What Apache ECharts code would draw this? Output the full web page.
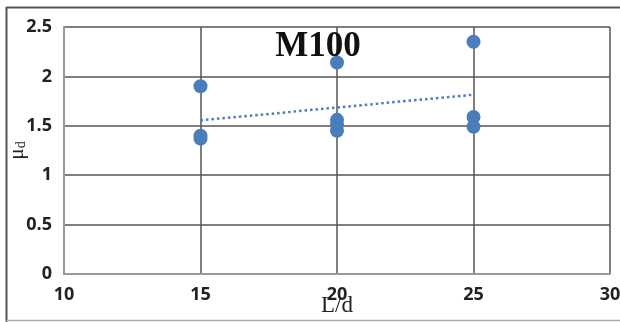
<!DOCTYPE html>
<html><head><meta charset="utf-8">
<script src="https://cdn.jsdelivr.net/npm/echarts@6/dist/echarts.min.js"></script>
<style>html,body{margin:0;padding:0;background:#fff}#c{width:620px;height:322px}</style>
</head><body><div id="c"></div>
<script>
var xLabels = [10, 15, 20, 25, 30];
var yLabels = [0, 0.5, 1, 1.5, 2, 2.5];
var ldValues = [15, 15, 15, 20, 20, 20, 20, 25, 25, 25];
var muValues = [1.90, 1.40, 1.37, 2.14, 1.56, 1.51, 1.45, 2.35, 1.59, 1.49];
var trendX = [15, 25];
var trendY = [1.555, 1.815];

var pts = ldValues.map(function (x, i) { return [x, muValues[i]]; });
var trend = trendX.map(function (x, i) { return [x, trendY[i]]; });

var chart = echarts.init(document.getElementById('c'), null, {renderer: 'canvas'});
chart.setOption({
  backgroundColor: '#fff',
  animation: false,
  title: {
    text: 'M100', left: 313, top: 24, textAlign: 'center',
    textStyle: {fontFamily: 'Liberation Serif', fontWeight: 'bold', fontSize: 35, color: '#111'}
  },
  grid: {left: 64, right: 10, top: 27, bottom: 48, containLabel: false, outerBoundsMode: 'none'},
  xAxis: {
    type: 'value', min: xLabels[0], max: xLabels[xLabels.length - 1], interval: 5,
    name: 'L/d', nameLocation: 'middle', nameGap: 20, nameMoveOverlap: false,
    nameTextStyle: {fontFamily: 'Liberation Serif', fontSize: 23, color: '#222'},
    axisLine: {show: true, lineStyle: {color: '#999', width: 2}},
    axisTick: {show: false},
    axisLabel: {margin: 12, fontFamily: 'Open Sans', fontWeight: 'bold', fontSize: 18, color: '#222'},
    splitLine: {show: true, lineStyle: {color: '#555', width: 1.5}}
  },
  yAxis: {
    type: 'value', min: yLabels[0], max: yLabels[yLabels.length - 1], interval: 0.5,
    name: '{m|μ}{s|d}', nameLocation: 'middle', nameGap: 36, nameRotate: 90, nameMoveOverlap: false,
    nameTextStyle: {
      rich: {
        m: {fontFamily: 'Liberation Serif', fontSize: 21, color: '#222'},
        s: {fontFamily: 'Liberation Serif', fontSize: 14, color: '#222', verticalAlign: 'bottom', padding: [8, 0, 0, 0]}
      }
    },
    axisLine: {show: true, lineStyle: {color: '#999', width: 2}},
    axisTick: {show: false},
    axisLabel: {margin: 12, fontFamily: 'Open Sans', fontWeight: 'bold', fontSize: 18, color: '#222'},
    splitLine: {show: true, lineStyle: {color: '#555', width: 1.5}}
  },
  graphic: [
    {type: 'line', shape: {x1: 6, y1: 7.5, x2: 620, y2: 7.5}, style: {stroke: '#555', lineWidth: 2}, silent: true},
    {type: 'line', shape: {x1: 6.5, y1: 7, x2: 6.5, y2: 322}, style: {stroke: '#555', lineWidth: 2}, silent: true},
    {type: 'line', shape: {x1: 6, y1: 320.5, x2: 620, y2: 320.5}, style: {stroke: '#aaa', lineWidth: 1.5}, silent: true}
  ],
  series: [
    {
      type: 'line', data: trend, symbol: 'none', z: 3,
      lineStyle: {color: '#4a7ebb', width: 2.5, type: [2.5, 3]}
    },
    {
      type: 'scatter', data: pts, symbol: 'circle', symbolSize: 14, z: 4,
      itemStyle: {color: '#4a7ebb', opacity: 1}
    }
  ]
});
</script></body></html>
